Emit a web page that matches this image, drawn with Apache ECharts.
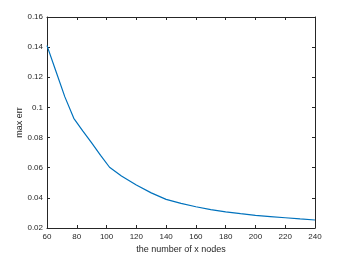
<!DOCTYPE html>
<html><head><meta charset="utf-8">
<script src="https://cdn.jsdelivr.net/npm/echarts@6/dist/echarts.min.js"></script>
<style>html,body{margin:0;padding:0;background:#fff}#c{width:341px;height:261px}</style>
</head><body><div id="c"></div>
<script>
const xNodes = [60, 66, 72, 78, 84, 90, 96, 102, 110, 120, 130, 140, 150, 160, 170, 180, 190, 200, 210, 220, 230, 240];
const maxErr = [0.141, 0.124, 0.107, 0.0928, 0.0845, 0.0765, 0.0682, 0.0603, 0.0545, 0.0485, 0.0433, 0.039, 0.0363, 0.0341, 0.0322, 0.0307, 0.0295, 0.0284, 0.0276, 0.0268, 0.026, 0.0253];
const xName = 'the number of x nodes';
const yName = 'max err';

const axisCol = '#262626';
const font = 'Liberation Sans, Arial, Helvetica, sans-serif';
const chart = echarts.init(document.getElementById('c'), null, {renderer: 'canvas'});
const baseX = {
  type: 'value', min: 60, max: 240, interval: 20,
  axisLine: {show: true, onZero: false, lineStyle: {color: axisCol, width: 1}},
  axisTick: {show: true, inside: true, length: 3, lineStyle: {color: axisCol}},
  splitLine: {show: false}
};
const baseY = {
  type: 'value', min: 0.02, max: 0.16, interval: 0.02,
  axisLine: {show: true, onZero: false, lineStyle: {color: axisCol, width: 1}},
  axisTick: {show: true, inside: true, length: 3, lineStyle: {color: axisCol}},
  splitLine: {show: false}
};
chart.setOption({
  animation: false,
  backgroundColor: '#fff',
  grid: {left: 47, right: 26, top: 17, bottom: 33, containLabel: false},
  xAxis: [
    Object.assign({}, baseX, {
      position: 'bottom', name: xName, nameLocation: 'middle', nameGap: 17,
      nameMoveOverlap: false,
      nameTextStyle: {fontFamily: font, fontSize: 9, color: axisCol},
      axisLabel: {fontFamily: font, fontSize: 8, color: axisCol, margin: 5}
    }),
    Object.assign({}, baseX, {position: 'top', axisLabel: {show: false}})
  ],
  yAxis: [
    Object.assign({}, baseY, {
      position: 'left', name: yName, nameLocation: 'middle', nameGap: 23,
      nameMoveOverlap: false,
      nameTextStyle: {fontFamily: font, fontSize: 9, color: axisCol},
      axisLabel: {fontFamily: font, fontSize: 8, color: axisCol, margin: 4,
        formatter: v => String(+v.toFixed(2))}
    }),
    Object.assign({}, baseY, {position: 'right', axisLabel: {show: false}})
  ],
  series: [{
    type: 'line',
    data: xNodes.map((x, i) => [x, maxErr[i]]),
    showSymbol: false, symbol: 'none',
    lineStyle: {color: '#0072BD', width: 1.2},
    xAxisIndex: 0, yAxisIndex: 0
  }]
});
</script></body></html>
